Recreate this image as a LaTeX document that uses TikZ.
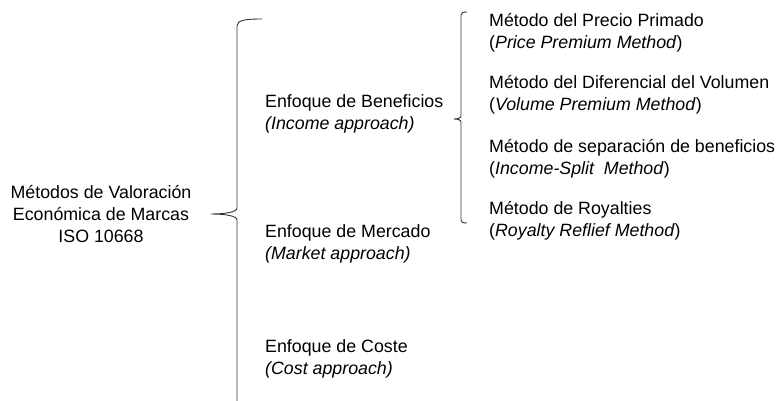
\documentclass[tikz,border=0pt]{standalone}
\usepackage{fontspec}
\setmainfont{Liberation Sans}
\begin{document}
\begin{tikzpicture}[x=1pt,y=-1pt,
  txt/.style={inner sep=0pt, font=\fontsize{17.8}{22}\selectfont, text=black},
  lft/.style={txt, anchor=west, align=left},
  brace/.style={draw=black!80, line width=0.9pt}]
\useasboundingbox (0,0) rectangle (781,401);

% root
\node[txt, align=center] (root) at (101,214) {Métodos de Valoración\\Económica de Marcas\\ISO 10668};

% approaches
\node[lft] (ben) at (265,114) {Enfoque de Beneficios\\\textit{(Income approach)}};
\node[lft] (mer) at (265,244) {Enfoque de Mercado\\\textit{(Market approach)}};
\node[lft] (cos) at (265,358.5) {Enfoque de Coste\\\textit{(Cost approach)}};

% methods
\node[lft] (m1) at (489,32.5) {Método del Precio Primado\\(\textit{Price Premium Method})};
\node[lft] (m2) at (489,95) {Método del Diferencial del Volumen\\(\textit{Volume Premium Method})};
\node[lft] (m3) at (489,158.5) {Método de separación de beneficios\\(\textit{Income-Split\ \ Method})};
\node[lft] (m4) at (489,221) {Método de Royalties\\(\textit{Royalty Reflief Method})};

% big brace
\coordinate (bigtip) at (211,214);
\coordinate (bigtop) at (262,19);
\coordinate (bigbot) at (237,401);
\draw[brace] (bigtop) .. controls (246,19) and (237,20) .. (237,26)
  -- (237,208) .. controls (237,212) and (226,214) .. (bigtip)
  .. controls (226,214) and (237,216) .. (237,220) -- (bigbot);

% small brace
\coordinate (smtip) at (454,119);
\coordinate (smtop) at (467,12);
\coordinate (smbot) at (467,223);
\draw[brace] (smtop) .. controls (463,12) and (461,12.5) .. (461,15)
  -- (461,116) .. controls (461,118) and (458,119) .. (smtip)
  .. controls (458,119) and (461,120) .. (461,122)
  -- (461,220) .. controls (461,222.5) and (463,223) .. (smbot);
\end{tikzpicture}
\end{document}
